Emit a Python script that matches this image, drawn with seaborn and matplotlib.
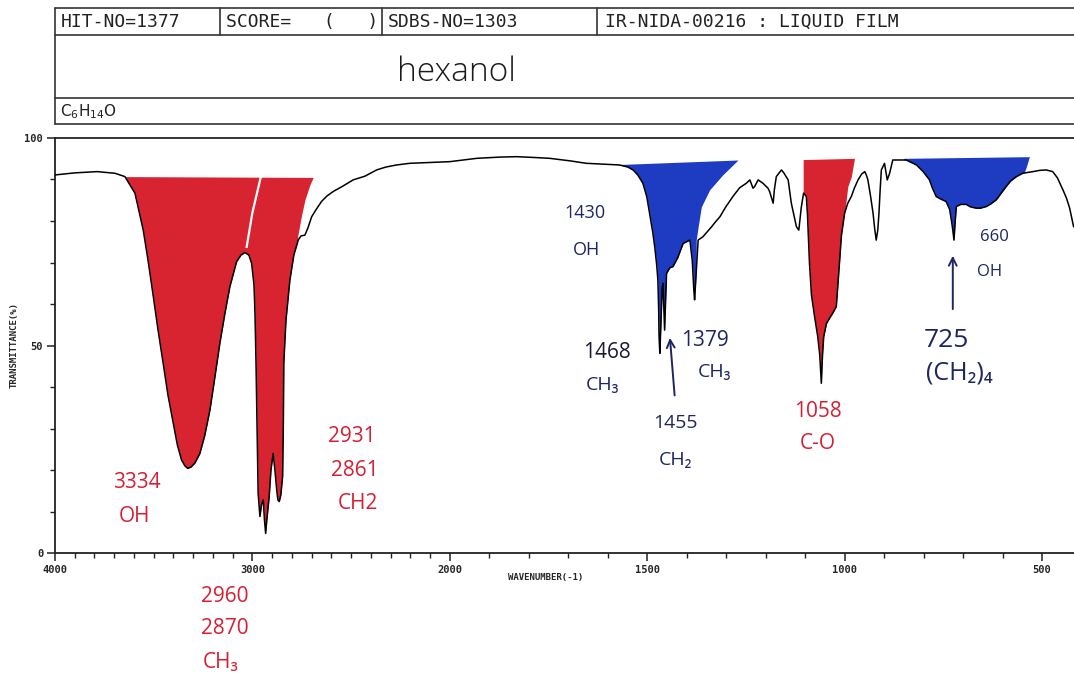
import numpy as np
import pandas as pd
import matplotlib
matplotlib.use("Agg")
import matplotlib.pyplot as plt
from matplotlib.lines import Line2D
import seaborn as sns

WAVENUMBER = [4000, 3899, 3787, 3696, 3646, 3595, 3553, 3529, 3502, 3478, 3452, 3428, 3401,
              3380, 3359, 3342, 3328, 3311, 3291, 3266, 3241, 3215, 3190, 3165, 3139, 3114,
              3080, 3058, 3038, 3018, 3004, 2992, 2987, 2982, 2977, 2971, 2962, 2954, 2945,
              2939, 2933, 2927, 2915, 2906, 2895, 2886, 2877, 2871, 2864, 2856, 2847, 2843,
              2841, 2830, 2810, 2790, 2768, 2754, 2734, 2719, 2700, 2678, 2650, 2623, 2591,
              2542, 2490, 2430, 2371, 2324, 2270, 2203, 2101, 2000, 1932, 1873, 1831, 1785,
              1747, 1696, 1654, 1570, 1549, 1536, 1524, 1511, 1501, 1494, 1486, 1481, 1476,
              1473, 1471, 1470, 1468, 1465, 1462, 1460, 1456, 1451, 1443, 1435, 1423, 1409,
              1392, 1386, 1382, 1380, 1377, 1371, 1359, 1349, 1337, 1327, 1316, 1301, 1283,
              1266, 1249, 1240, 1232, 1228, 1219, 1207, 1194, 1190, 1181, 1178, 1173, 1160,
              1154, 1143, 1135, 1122, 1116, 1110, 1104, 1097, 1094, 1089, 1084, 1076, 1068,
              1063, 1059, 1056, 1053, 1046, 1038, 1030, 1021, 1018, 1013, 1008, 1000, 992,
              983, 975, 966, 957, 949, 945, 941, 934, 928, 924, 920, 916, 913, 910, 907, 899,
              892, 886, 878, 844, 818, 802, 785, 778, 768, 757, 743, 734, 729, 726, 723, 720,
              717, 706, 692, 681, 667, 656, 641, 630, 616, 605, 591, 580, 565, 549, 523, 506,
              489, 473, 461, 447, 438, 430, 420]
TRANSMITTANCE = [91.1, 91.6, 91.9, 91.5, 90.7, 86.7, 77.8, 70.6, 61.8, 53.7, 45.7, 38.1, 31.3,
                 26.0, 22.4, 21.0, 20.4, 20.7, 21.7, 24.0, 28.4, 34.5, 42.4, 50.5, 57.8, 64.2,
                 70.2, 71.8, 72.4, 71.8, 69.8, 64.6, 57.8, 46.5, 32.0, 14.4, 8.8, 11.6, 12.8,
                 8.0, 4.7, 8.0, 13.6, 20.0, 24.0, 20.0, 15.2, 12.8, 12.4, 14.0, 18.4, 32.0,
                 45.7, 56.1, 65.8, 71.8, 75.4, 76.4, 76.6, 78.3, 81.0, 82.7, 84.7, 86.0, 87.1,
                 88.4, 89.9, 90.8, 92.3, 93.0, 93.5, 93.9, 94.1, 94.3, 95.1, 95.4, 95.5, 95.3,
                 95.1, 94.5, 93.9, 93.5, 93.0, 92.3, 91.1, 89.1, 85.8, 81.9, 77.3, 73.8, 69.4,
                 65.8, 58.6, 52.1, 48.1, 56.1, 64.0, 65.0, 53.7, 67.4, 68.7, 69.0, 71.1, 74.6,
                 75.4, 70.6, 63.4, 61.0, 65.8, 75.4, 76.2, 77.3, 78.6, 79.8, 81.0, 83.4, 85.9,
                 88.0, 89.1, 89.9, 87.9, 88.3, 89.9, 89.1, 87.9, 87.1, 84.3, 87.5, 90.7, 92.3,
                 91.6, 89.9, 84.3, 78.6, 77.8, 83.1, 86.7, 85.9, 81.4, 69.8, 62.2, 56.9, 52.1,
                 47.7, 40.9, 47.7, 52.1, 55.3, 56.6, 57.8, 59.4, 63.4, 69.8, 76.6, 81.9, 84.3,
                 85.9, 88.0, 89.9, 91.3, 91.9, 91.1, 89.9, 85.8, 81.9, 78.3, 75.4, 77.8, 81.9,
                 87.5, 92.3, 93.9, 89.9, 91.5, 94.7, 94.7, 93.5, 92.0, 89.9, 88.0, 85.9, 85.3,
                 84.7, 82.8, 79.8, 77.8, 75.4, 79.8, 83.5, 84.0, 84.0, 83.4, 83.1, 83.1, 83.5,
                 84.1, 85.1, 86.5, 88.3, 89.6, 90.7, 91.5, 91.9, 92.2, 92.3, 91.9, 90.4, 87.5,
                 85.5, 83.1, 78.6]

X_MAJOR = [4000, 3000, 2000, 1500, 1000, 500]
X_MAJOR_LABELS = ["4000", "3000", "2000", "1500", "1000", "500"]
Y_MAJOR = [0, 50, 100]
Y_MAJOR_LABELS = ["0", "50", "100"]

# hand-coloured highlight bands: top edge and slanted closing edge (wavenumber, %T)
RED_OH_CH_TOP = [(3650, 90.7), (2692, 90.5)]
RED_OH_CH_EDGE = [(2692, 90.5), (2709, 88.7), (2734, 85.1), (2751, 81.4), (2770, 76.5)]
RED_OH_CH_GAP = [(2957, 90.7), (3000, 82.0), (3030, 73.5)]
RED_CO_TOP = [(1105, 94.8), (975, 95.1)]
RED_CO_EDGE = [(975, 95.1), (983, 90.7), (992, 88.3), (997, 84.3), (1000, 81.5)]
BLUE_CH_TOP = [(1575, 93.6), (1270, 94.7)]
BLUE_CH_EDGE = [(1270, 94.7), (1309, 91.1), (1342, 87.5), (1363, 83.4), (1371, 78.6), (1376, 75.4)]
BLUE_OH_TOP = [(850, 95.1), (532, 95.5)]
BLUE_OH_EDGE = [(532, 95.5), (540, 93.0), (546, 91.4)]

# handwritten notes
NOTE_TEXT = ["3334", "OH", "2931", "2861", "CH2", "2960", "2870", "CH\u2083",
             "1430", "OH", "1468", "CH\u2083", "1379", "CH\u2083", "1455", "CH\u2082",
             "1058", "C-O", "725", "(CH\u2082)\u2084", "660", "OH"]
NOTE_W = [3585, 3595, 2496, 2481, 2466, 3139, 3139, 3160,
          1658, 1653, 1603, 1613, 1354, 1329, 1428, 1428,
          1068, 1068, 742, 709, 620, 633]
NOTE_T = [16.9, 8.7, 28.0, 20.0, 12.0, -10.6, -18.1, -26.3,
          81.9, 73.0, 48.2, 40.5, 51.3, 43.6, 31.3, 22.4,
          34.2, 26.5, 51.3, 43.4, 76.1, 67.7]
ARROWS = [((1430, 37.3), (1443, 52.5)), ((726, 58.1), (726, 72.3))]

HEADER = ["HIT-NO=1377", "SCORE=   (   )", "SDBS-NO=1303", "IR-NIDA-00216 : LIQUID FILM"]
COMPOUND = "hexanol"
FORMULA = r"C$_{6}$H$_{14}$O"

# ---------------- styles ----------------
RED_FILL = "#d82330"
BLUE_FILL = "#1d3cc2"
RED_INK = "#d61f33"
NAVY_INK = "#1d2660"
DARK_INK = "#1a1a30"
FRAME = "#222222"

sns.set_theme(style="ticks")
plt.rcParams["font.family"] = ["DejaVu Sans"]

fig = plt.figure(figsize=(10.74, 6.75), dpi=100)
fig.patch.set_facecolor("white")

# header boxes (figure pixel coordinates)
hax = fig.add_axes([0, 0, 1, 1], zorder=0)
hax.set_xlim(0, 1074)
hax.set_ylim(675, 0)
hax.axis("off")
for yy in [8, 35, 98, 124]:
    hax.add_line(Line2D([55, 1074], [yy, yy], color="#333333", lw=1.2))
hax.add_line(Line2D([55, 55], [8, 124], color="#333333", lw=1.2))
for xx in [220, 382, 597]:
    hax.add_line(Line2D([xx, xx], [8, 35], color="#333333", lw=1.2))
for txt, xx in zip(HEADER, [61, 226, 388, 605]):
    hax.text(xx, 22, txt, fontsize=13, family="DejaVu Sans Mono", color="#222222",
             ha="left", va="center")
hax.text(60, 112, FORMULA, fontsize=11, color="#222222", ha="left", va="center")
hax.text(456, 72, COMPOUND, fontsize=24, color="#1a1a1a", ha="center", va="center",
         family=["Open Sans", "DejaVu Sans"], fontweight="light")

# main spectrum axes
ax = fig.add_axes([55 / 1074, 122 / 675, 1019 / 1074, 415 / 675], zorder=1)
ax.patch.set_alpha(0)


def fwd(w):
    w = np.asarray(w, dtype=float)
    return np.where(w >= 2000, w, 2 * w - 2000)


def inv(v):
    v = np.asarray(v, dtype=float)
    return np.where(v >= 2000, v, (v + 2000) / 2)


ax.set_xscale("function", functions=(fwd, inv))
ax.set_xlim(4000, 419)
ax.set_ylim(0, 100)

w_arr = np.array(WAVENUMBER, dtype=float)
t_arr = np.array(TRANSMITTANCE, dtype=float)


def band(top, edge, color):
    tw = np.array([p[0] for p in top]); tt = np.array([p[1] for p in top])
    ew = np.array([p[0] for p in edge]); et = np.array([p[1] for p in edge])
    hi, lo = tw.max(), tw.min()
    inside = w_arr[(w_arr <= hi) & (w_arr >= lo)]
    wd = np.unique(np.concatenate([np.linspace(lo, hi, 800), inside]))
    curve = np.interp(wd, w_arr[::-1], t_arr[::-1])
    o = np.argsort(tw); upper = np.interp(wd, tw[o], tt[o])
    o = np.argsort(ew)
    ed = np.where((wd >= ew.min()) & (wd <= ew.max()), np.interp(wd, ew[o], et[o]), -np.inf)
    lower = np.maximum(curve, ed)
    ax.fill_between(wd, lower, upper, where=upper > lower, color=color, lw=0,
                    interpolate=True, zorder=2)


band(RED_OH_CH_TOP, RED_OH_CH_EDGE, RED_FILL)
band(RED_CO_TOP, RED_CO_EDGE, RED_FILL)
band(BLUE_CH_TOP, BLUE_CH_EDGE, BLUE_FILL)
band(BLUE_OH_TOP, BLUE_OH_EDGE, BLUE_FILL)
# thin unpainted gap between the two red marker strokes
ax.plot([p[0] for p in RED_OH_CH_GAP], [p[1] for p in RED_OH_CH_GAP],
        color="white", lw=1.6, zorder=2.5, solid_capstyle="butt")

df = pd.DataFrame({"wavenumber": WAVENUMBER, "T": TRANSMITTANCE})
sns.lineplot(data=df, x="wavenumber", y="T", sort=False, estimator=None,
             color="black", lw=1.1, ax=ax, zorder=3)

# axes frame and ticks
for side in ["left", "bottom", "top"]:
    ax.spines[side].set_color(FRAME)
    ax.spines[side].set_linewidth(1.3)
ax.spines["right"].set_visible(False)
ax.set_xticks(X_MAJOR)
ax.set_xticklabels(X_MAJOR_LABELS)
ax.set_xticks([v for v in range(500, 4001, 100) if v not in X_MAJOR], minor=True)
ax.set_yticks(Y_MAJOR)
ax.set_yticklabels(Y_MAJOR_LABELS)
ax.set_yticks([v for v in range(10, 100, 10) if v not in Y_MAJOR], minor=True)
ax.tick_params(axis="both", which="major", direction="out", length=5.5, width=1.1,
               color=FRAME, labelsize=7.5, pad=3)
ax.tick_params(axis="both", which="minor", direction="out", length=3.5, width=1.0, color=FRAME)
ax.tick_params(axis="x", which="both", top=False)
ax.tick_params(axis="y", which="both", right=False)
for lab in ax.get_xticklabels() + ax.get_yticklabels():
    lab.set_family("DejaVu Sans Mono")
    lab.set_fontweight("bold")
ax.set_xlabel("WAVENUMBER(-1)", fontsize=6.5, family="DejaVu Sans Mono", fontweight="bold")
ax.set_ylabel("TRANSMITTANCE(%)", fontsize=6.5, family="DejaVu Sans Mono", fontweight="bold")
ax.xaxis.set_label_coords(0.481, -0.048)
ax.yaxis.set_label_coords(-0.036, 0.5)
ax.grid(False)

# handwritten notes
note_colors = [RED_INK] * 8 + [NAVY_INK] * 2 + [DARK_INK] + [NAVY_INK] * 5 + [RED_INK] * 2 + [NAVY_INK] * 4
note_sizes = [15, 15, 15, 15, 15, 15, 15, 15,
              13, 13, 15, 14, 15, 14, 14, 14,
              15, 15, 19, 18, 12, 12]
for txt, wv, tv, c, s in zip(NOTE_TEXT, NOTE_W, NOTE_T, note_colors, note_sizes):
    ax.text(wv, tv, txt, color=c, fontsize=s, ha="center", va="center",
            family=["Open Sans", "DejaVu Sans"], clip_on=False, zorder=4)
for (tail, tip) in ARROWS:
    ax.annotate("", xy=tip, xytext=tail,
                arrowprops=dict(arrowstyle="->", color=NAVY_INK, lw=1.4, mutation_scale=14),
                zorder=4)

fig.savefig("out.png", dpi=100, facecolor="white")
